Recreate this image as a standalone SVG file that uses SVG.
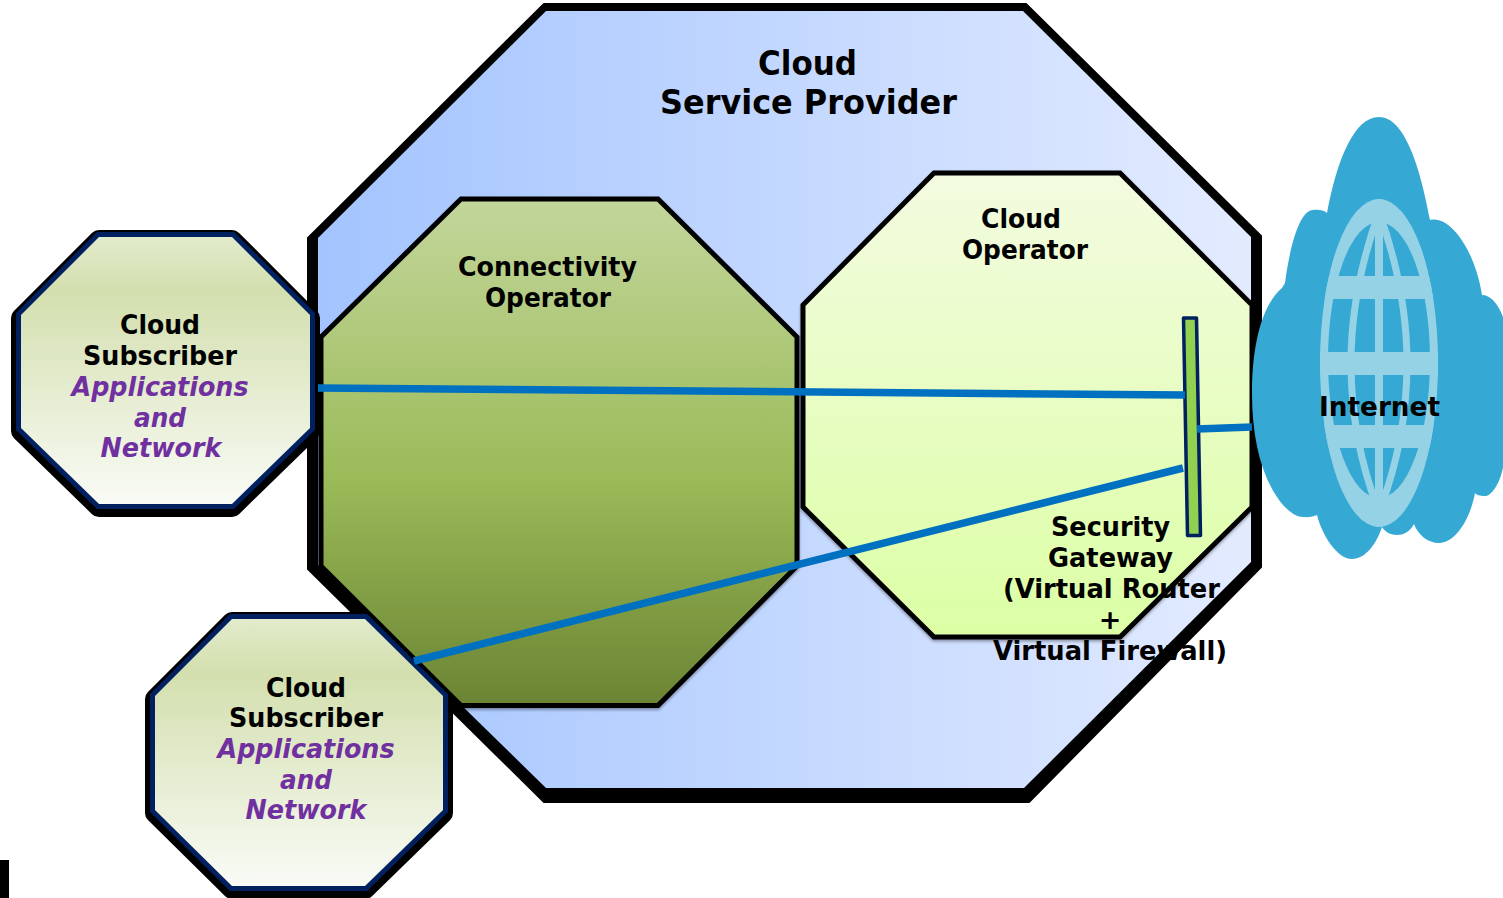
<svg xmlns="http://www.w3.org/2000/svg" width="1503" height="898" viewBox="0 0 1503 898">
<style>
text{font-family:"DejaVu Sans","Liberation Sans",sans-serif;font-weight:700;font-size:27px;text-anchor:middle;fill:#000}
.big{font-size:33px}
.em{font-style:italic;fill:#7030a0}
.oct-a{fill:#000;stroke:#000;stroke-width:20;stroke-linejoin:round}
.oct-b{fill:none;stroke:#002060;stroke-width:10}
.oct-c{fill:url(#gSub);stroke:none}
.lnk{stroke:#0070c0;stroke-width:7.500;fill:none}
.lt{fill:#96d2e6}
.mer{fill:none;stroke:#96d2e6;stroke-width:7}
.inner{stroke:#000;stroke-width:5;filter:url(#soft)}
</style>
<defs>
<linearGradient id="gProv" x1="0" x2="1" y1="0" y2="0"><stop offset="0" stop-color="#a3c4ff"/><stop offset="1" stop-color="#e3ebff"/></linearGradient>
<linearGradient id="gConn" x1="0" x2="0" y1="0" y2="1"><stop offset="0" stop-color="#c3d69b"/><stop offset=".55" stop-color="#9bbb59"/><stop offset="1" stop-color="#6b8433"/></linearGradient>
<linearGradient id="gOp" x1="0" x2="0" y1="0" y2="1"><stop offset="0" stop-color="#f3fbe0"/><stop offset="1" stop-color="#dcffa5"/></linearGradient>
<linearGradient id="gSub" x1="0" x2="0" y1="0" y2="1"><stop offset="0" stop-color="#e2ebcb"/><stop offset=".2" stop-color="#d3dfae"/><stop offset="1" stop-color="#f9fbf6"/></linearGradient>
<filter id="soft" x="-5%" y="-5%" width="110%" height="110%"><feDropShadow dx="0" dy="2" stdDeviation="1.500" flood-color="#000" flood-opacity=".35"/></filter>
<clipPath id="globe"><ellipse cx="1379" cy="363" rx="59" ry="164"/></clipPath>
<polygon id="sub" points="77,0 210,0 288,77 288,191 210,267 77,267 0,191 0,77"/>
<polygon id="sub1" points="78,0 211,0 289,78 289,191 211,267 78,267 0,191 0,78"/>
</defs>

<rect id="corner-mark" x="0" y="860" width="9" height="38" fill="#000"/>

<g id="cloud-service-provider">
<polygon points="544,4 1026,4 1261,236 1261,567 1029,802 544,802 308,569 308,238" fill="#000" stroke="#000" stroke-width="2" stroke-linejoin="round"/>
<polygon points="546,11 1023,11 1251,237 1251,562 1024,788 546,788 318,565 318,238" fill="url(#gProv)"/>
<text class="big" x="807.500" y="75" textLength="99" lengthAdjust="spacingAndGlyphs">Cloud</text>
<text class="big" x="808.500" y="114" textLength="297" lengthAdjust="spacingAndGlyphs">Service Provider</text>
</g>

<g id="connectivity-operator">
<polygon class="inner" points="461,199 658,199 797,337 797,566 658,705.500 461,705.500 321,566 321,337" fill="url(#gConn)"/>
<text x="547.500" y="275.500" textLength="179" lengthAdjust="spacingAndGlyphs">Connectivity</text>
<text x="548" y="306.500" textLength="126" lengthAdjust="spacingAndGlyphs">Operator</text>
</g>

<g id="cloud-operator">
<polygon class="inner" points="934,173 1120,173 1252,305 1252,507 1120,637 934,637 803,507 803,305" fill="url(#gOp)"/>
<text x="1021" y="228" textLength="80" lengthAdjust="spacingAndGlyphs">Cloud</text>
<text x="1025" y="259" textLength="126" lengthAdjust="spacingAndGlyphs">Operator</text>
</g>

<g id="security-gateway">
<polygon points="1183.500,318 1196.500,318 1200.500,535.500 1187.500,535.500" fill="#92d050" stroke="#002060" stroke-width="3.500" stroke-linejoin="round"/>
<text x="1110.500" y="536" textLength="119" lengthAdjust="spacingAndGlyphs">Security</text>
<text x="1110.500" y="567" textLength="125" lengthAdjust="spacingAndGlyphs">Gateway</text>
<text x="1111.500" y="598" textLength="217" lengthAdjust="spacingAndGlyphs">(Virtual Router</text>
<text x="1110" y="629">+</text>
<text x="1110" y="660" textLength="234" lengthAdjust="spacingAndGlyphs">Virtual Firewall)</text>
</g>

<g id="internet">
<path d="M1379,117C1404,117 1420,165 1430,220C1450,215 1475,250 1482,295C1490,295 1498,303 1503,317L1503,467C1500,485 1490,497 1485,496C1480,496 1476,495 1475,493C1470,520 1455,543 1439,543C1428,543 1418,535 1414,524C1410,532 1403,535 1397,535C1391,535 1385,532 1382,527C1376,545 1365,559 1352,559C1337,559 1322,535 1317,515C1310,518 1306,517 1303,517C1295,517 1288,510 1283,505C1262,480 1252,440 1252,393C1252,345 1262,305 1282,288L1285,283C1290,245 1300,210 1313,210C1320,209 1325,211 1327,213C1337,160 1354,117 1379,117Z" fill="#35a9d4"/>
<ellipse class="lt" cx="1379" cy="363" rx="59" ry="164"/>
<ellipse cx="1379" cy="360" rx="51" ry="138" fill="#35a9d4"/>
<g clip-path="url(#globe)">
<rect class="lt" x="1310" y="276" width="140" height="23"/>
<rect class="lt" x="1310" y="352" width="140" height="23"/>
<rect class="lt" x="1310" y="425" width="140" height="23"/>
<rect class="lt" x="1375" y="199" width="8" height="328"/>
<path class="mer" d="M1379,212Q1351,290 1351,363Q1351,440 1379,512"/>
<path class="mer" d="M1379,212Q1407,290 1407,363Q1407,440 1379,512"/>
</g>
<text x="1379.500" y="416" textLength="121" lengthAdjust="spacingAndGlyphs">Internet</text>
</g>

<g id="subscriber-1" transform="translate(21 237)">
<use href="#sub1" class="oct-a" y="3"/><use href="#sub1" class="oct-b"/><use href="#sub1" class="oct-c"/>
<text x="139" y="97" textLength="80" lengthAdjust="spacingAndGlyphs">Cloud</text>
<text x="139" y="128" textLength="154" lengthAdjust="spacingAndGlyphs">Subscriber</text>
<text class="em" x="139" y="159" textLength="177" lengthAdjust="spacingAndGlyphs">Applications</text>
<text class="em" x="139" y="190" textLength="52" lengthAdjust="spacingAndGlyphs">and</text>
<text class="em" x="140" y="220" textLength="121" lengthAdjust="spacingAndGlyphs">Network</text>
</g>

<g id="subscriber-2" transform="translate(155 619)">
<use href="#sub" class="oct-a" y="3"/><use href="#sub" class="oct-b"/><use href="#sub" class="oct-c"/>
<text x="151" y="78" textLength="80" lengthAdjust="spacingAndGlyphs">Cloud</text>
<text x="151" y="108" textLength="154" lengthAdjust="spacingAndGlyphs">Subscriber</text>
<text class="em" x="151" y="139" textLength="177" lengthAdjust="spacingAndGlyphs">Applications</text>
<text class="em" x="151" y="170" textLength="52" lengthAdjust="spacingAndGlyphs">and</text>
<text class="em" x="151" y="200" textLength="121" lengthAdjust="spacingAndGlyphs">Network</text>
</g>

<g id="connectors">
<line class="lnk" x1="318" y1="388" x2="1185" y2="395"/>
<line class="lnk" x1="1197" y1="429" x2="1252" y2="427"/>
<line class="lnk" x1="414" y1="661" x2="1183" y2="468"/>
</g>
</svg>
